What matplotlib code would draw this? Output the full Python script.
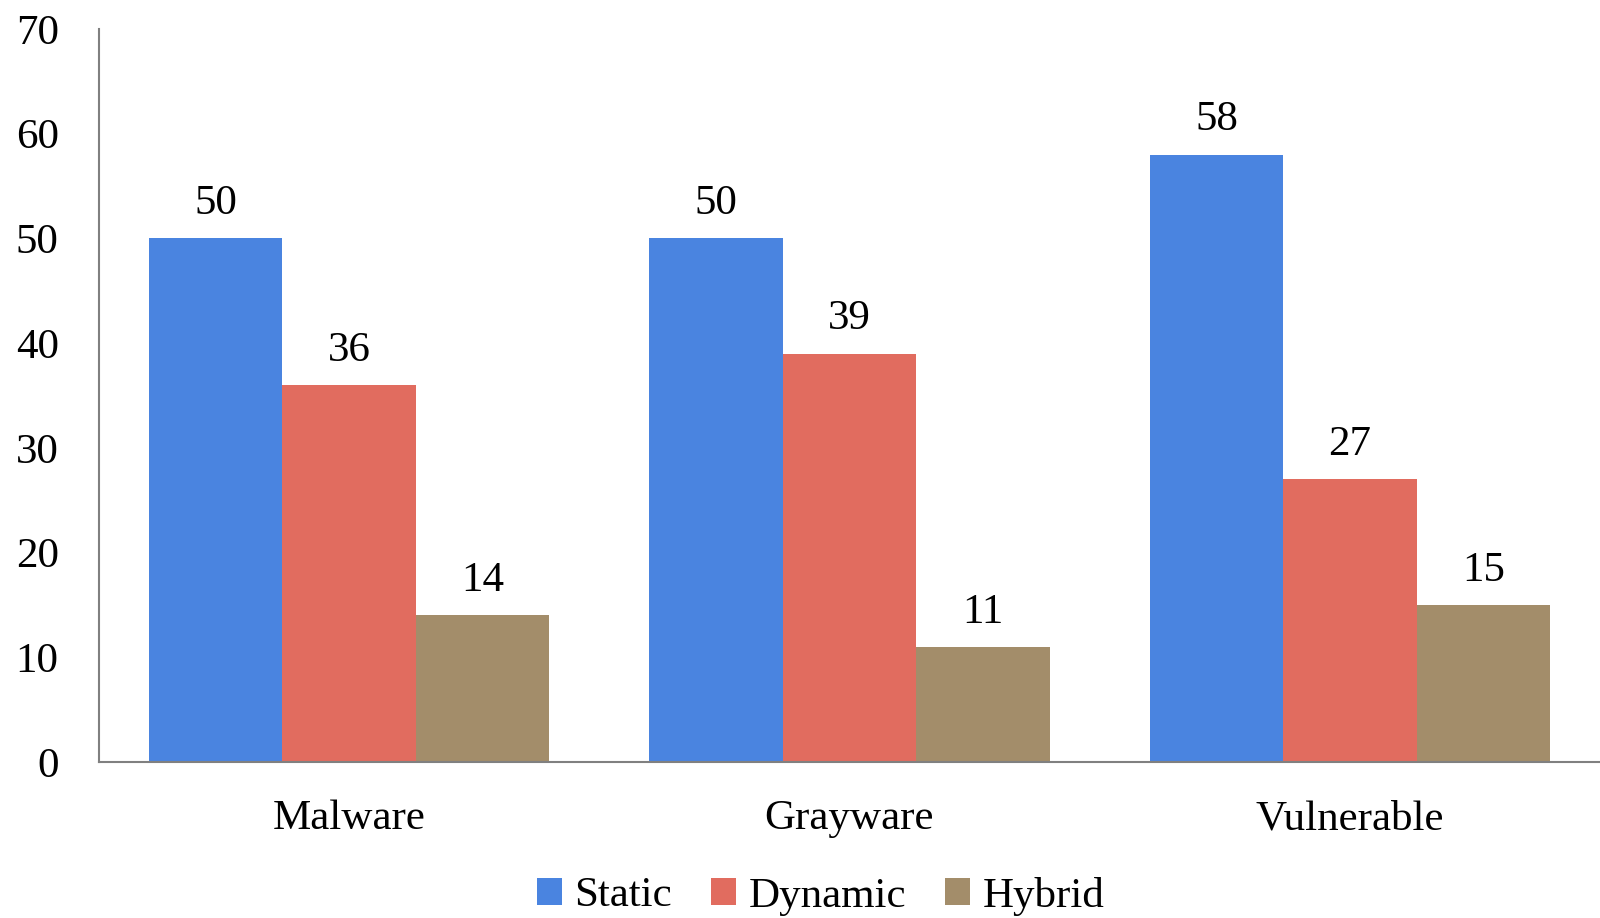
import matplotlib.pyplot as plt
import numpy as np

categories = ['Malware', 'Grayware', 'Vulnerable']
series = ['Static', 'Dynamic', 'Hybrid']
static = [50, 50, 58]
dynamic = [36, 39, 27]
hybrid = [14, 11, 15]
yticks = [0, 10, 20, 30, 40, 50, 60, 70]

colors = ['#4A84E0', '#E16C5F', '#A38D6A']

plt.rcParams['font.family'] = ['Liberation Serif', 'DejaVu Serif']

fig = plt.figure(figsize=(16, 9.18), dpi=100)
ax = fig.add_axes([99/1600, 1 - 762/918, 1501/1600, (762 - 29)/918])

x = np.arange(len(categories))
w = 0.8 / 3
for i, (name, vals) in enumerate(zip(series, [static, dynamic, hybrid])):
    bars = ax.bar(x + (i - 1) * w, vals, width=w, color=colors[i], label=name)
    for b, v in zip(bars, vals):
        ax.annotate(str(v), (b.get_x() + b.get_width() / 2, v),
                    xytext=(0, 11), textcoords='offset points',
                    ha='center', va='bottom', fontsize=31)

ax.set_xlim(-0.5, 2.5)
ax.set_ylim(0, 70)
ax.set_yticks(yticks)
ax.set_xticks(x)
ax.set_xticklabels(categories)
ax.tick_params(axis='both', length=0, labelsize=31)
ax.tick_params(axis='x', pad=27)
ax.tick_params(axis='y', pad=29)

for s in ['top', 'right']:
    ax.spines[s].set_visible(False)
for s in ['left', 'bottom']:
    ax.spines[s].set_color('#808080')
    ax.spines[s].set_linewidth(1.5)

# legend sits a bit right of the figure centre, like the original
leg = fig.legend(loc='center', bbox_to_anchor=(0.513, 1 - 896/918), ncol=3,
                 frameon=False, fontsize=31, handlelength=0.58, handleheight=0.58,
                 handletextpad=0.3, columnspacing=0.9)

fig.savefig('out.png', dpi=100, facecolor='white')
